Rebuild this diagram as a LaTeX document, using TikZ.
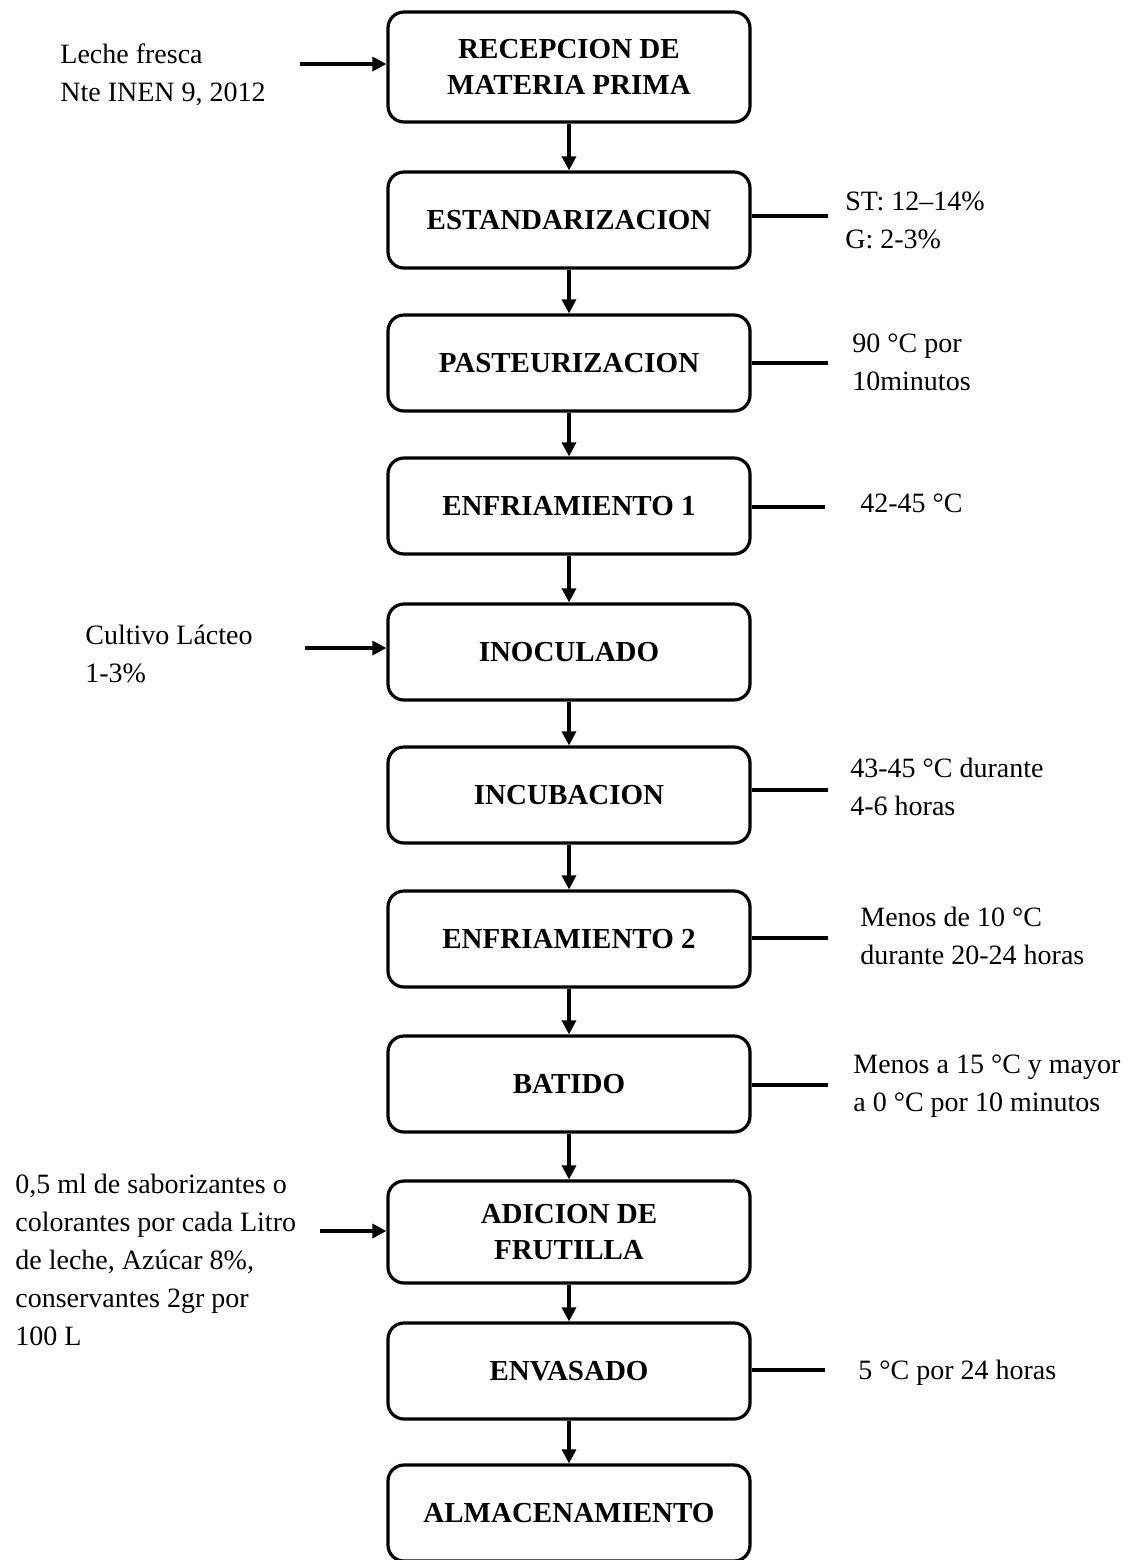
\documentclass[tikz,border=0pt]{standalone}
\usepackage{fontspec}
\setmainfont{Liberation Serif}
\usetikzlibrary{arrows.meta}

\begin{document}
\begin{tikzpicture}[x=0.5pt, y=-0.5pt,
    paso/.style={draw, line width=1.6pt, rounded corners=8pt, minimum width=181pt, minimum height=48pt, inner sep=0pt, align=center, font=\fontsize{14.5}{18}\selectfont\bfseries},
    nota/.style={anchor=north west, inner sep=0pt, align=left, font=\fontsize{14}{19}\selectfont},
    flecha/.style={-{Triangle[length=7pt,width=7pt]}, line width=1.6pt},
    linea/.style={line width=1.8pt}]
  \useasboundingbox (0,0) rectangle (1135,1560);

  % etapas del proceso
  \node[paso, minimum height=55pt] (recep) at (569,67) {RECEPCION DE\\MATERIA PRIMA};
  \node[paso] (estand) at (569,220) {ESTANDARIZACION};
  \node[paso] (pasteur) at (569,363) {PASTEURIZACION};
  \node[paso] (enfriaA) at (569,506) {ENFRIAMIENTO 1};
  \node[paso] (inocul) at (569,652) {INOCULADO};
  \node[paso] (incub) at (569,795) {INCUBACION};
  \node[paso] (enfriaB) at (569,939) {ENFRIAMIENTO 2};
  \node[paso] (batido) at (569,1084) {BATIDO};
  \node[paso, minimum height=51pt] (adicion) at (569,1232) {ADICION DE\\FRUTILLA};
  \node[paso] (envas) at (569,1371) {ENVASADO};
  \node[paso] (almac) at (569,1513) {ALMACENAMIENTO};

  \draw[flecha] (recep) -- (estand);
  \draw[flecha] (estand) -- (pasteur);
  \draw[flecha] (pasteur) -- (enfriaA);
  \draw[flecha] (enfriaA) -- (inocul);
  \draw[flecha] (inocul) -- (incub);
  \draw[flecha] (incub) -- (enfriaB);
  \draw[flecha] (enfriaB) -- (batido);
  \draw[flecha] (batido) -- (adicion);
  \draw[flecha] (adicion) -- (envas);
  \draw[flecha] (envas) -- (almac);

  % entradas
  \node[nota] (lecheIn) at (60,43) {Leche fresca\\Nte INEN 9, 2012};
  \node[nota] (cultivoIn) at (85,625) {Cultivo Lácteo\\1-3\%};
  \node[nota] (saborIn) at (15,1174) {0,5 ml de saborizantes o\\colorantes por cada Litro\\de leche, Azúcar 8\%,\\conservantes 2gr por\\100 L};
  \coordinate (lecheA) at (300,64);
  \coordinate (cultivoA) at (305,648);
  \coordinate (saborA) at (320,1231);
  \draw[flecha] (lecheA) -- (lecheA -| recep.west);
  \draw[flecha] (cultivoA) -- (cultivoA -| inocul.west);
  \draw[flecha] (saborA) -- (saborA -| adicion.west);

  % condiciones
  \node[nota] (estandC) at (845,191) {ST: 12–14\%\\G: 2-3\%};
  \node[nota] (pasteurC) at (852,333) {90 °C por\\10minutos};
  \node[nota] (enfriaAC) at (860,493) {42-45 °C};
  \node[nota] (incubC) at (850,758) {43-45 °C durante\\4-6 horas};
  \node[nota] (enfriaBC) at (860,907) {Menos de 10 °C\\durante 20-24 horas};
  \node[nota] (batidoC) at (853,1054) {Menos a 15 °C y mayor\\a 0 °C por 10 minutos};
  \node[nota] (envasC) at (858,1360) {5 °C por 24 horas};
  \coordinate (estandB) at (828,216);
  \coordinate (pasteurB) at (828,363);
  \coordinate (enfriaAB) at (825,507);
  \coordinate (incubB) at (828,790);
  \coordinate (enfriaBB) at (828,938);
  \coordinate (batidoB) at (828,1085);
  \coordinate (envasB) at (825,1370);
  \draw[linea] (estandB -| estand.east) -- (estandB);
  \draw[linea] (pasteurB -| pasteur.east) -- (pasteurB);
  \draw[linea] (enfriaAB -| enfriaA.east) -- (enfriaAB);
  \draw[linea] (incubB -| incub.east) -- (incubB);
  \draw[linea] (enfriaBB -| enfriaB.east) -- (enfriaBB);
  \draw[linea] (batidoB -| batido.east) -- (batidoB);
  \draw[linea] (envasB -| envas.east) -- (envasB);
\end{tikzpicture}
\end{document}
